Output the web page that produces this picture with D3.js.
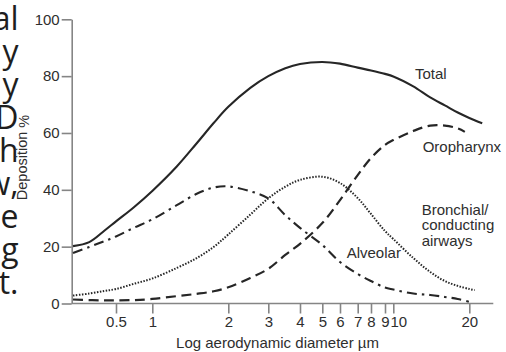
<!DOCTYPE html>
<html>
<head>
<meta charset="utf-8">
<script src="https://cdn.jsdelivr.net/npm/d3@7"></script>
<style>
  html, body { margin: 0; padding: 0; background: #fff; }
  svg { display: block; }
</style>
</head>
<body>
<div id="chart"></div>
<script>
// ---------------- DATA ----------------
// particle aerodynamic diameter (µm) at which the curves were read
const sizes = [0.22, 0.3, 0.4, 0.5, 0.7, 1, 1.25, 1.5, 1.75, 2, 2.5, 3, 3.5, 4, 5, 6, 7, 8, 9, 10, 12, 14, 16, 18, 19.2, 20, 21, 22.5];
// deposition % per region (null = curve not drawn there)
const totalDep      = [20.2, 21.6, 25.6, 28.9, 33.8, 39.6, 48.2, 56.4, 63.5, 69.2, 75.9, 80.0, 82.8, 84.3, 85.0, 84.4, 83.0, 82.0, 80.8, 79.9, 76.4, 72.5, 69.7, 67.2, null, 65.3, null, 63.4];
const oropharynxDep = [1.4, 1.2, 1.1, 1.1, 1.2, 1.6, 2.6, 3.4, 4.3, 5.7, 9.0, 12.2, 17.1, 21.0, 28.3, 36.4, 45.2, 51.2, 55.8, 57.5, 60.7, 62.6, 62.6, 61.6, 60.4, null, null, null];
const bronchialDep  = [2.8, 3.5, 4.4, 5.1, 6.9, 8.8, 12.5, 16.0, 19.9, 24.3, 31.3, 37.0, 41.1, 43.5, 44.6, 42.4, 37.1, 31.5, 25.5, 22.7, 16.0, 11.1, 7.9, 6.2, null, 5.1, 4.7, null];
const alveolarDep   = [17.8, 19.9, 21.9, 23.6, 26.6, 29.6, 34.6, 38.6, 40.8, 41.2, 39.5, 37.0, 31.1, 26.6, 20.6, 14.6, 10.4, 7.9, 5.6, 4.9, 3.5, 3.0, 2.3, 1.6, null, 0.6, null, null];

const xTickValues = [0.5, 1, 2, 3, 4, 5, 6, 7, 8, 9, 10, 20];
const yTickValues = [0, 20, 40, 60, 80, 100];
const seriesNames = ["Total", "Oropharynx", "Bronchial/conducting airways", "Alveolar"];
const xAxisTitle = "Log aerodynamic diameter µm";
const yAxisTitle = "Deposition";
// clipped fragments of the page text at the left edge
const sideText = ["al", "y", "y", "D", "h", "w,", "e", "g", "t."];

// ---------------- LAYOUT ----------------
const W = 506, H = 352;
const plotLeft = 71.7, plotRight = 493.3, plotTop = 19.3, plotBottom = 303.5;
// the printed axis is a hand-drawn log axis: tick positions along it
const xTickPx = [116, 152.3, 228.3, 268.3, 300, 322.3, 340, 357.7, 371, 385, 393.3, 469.3];

const svg = d3.select("#chart").append("svg").attr("width", W).attr("height", H);

const xLin = d3.scaleLinear().domain(xTickValues.map(Math.log10)).range(xTickPx);
const x = v => xLin(Math.log10(v));
const y = d3.scaleLinear().domain([0, 100]).range([plotBottom, plotTop]);

const axisColor = "#858585";
const textColor = "#2e2e2e";
const chartFont = "'Liberation Sans', Arial, Helvetica, sans-serif";

// side text
svg.append("g").selectAll("text").data(sideText).join("text")
  .attr("x", 18.5)
  .attr("y", (d, i) => 29.5 + i * 33)
  .attr("text-anchor", "end")
  .attr("font-family", "'Open Sans', sans-serif")
  .attr("font-size", 32)
  .attr("fill", "#1e1e1e")
  .text(d => d);

// y axis
const gy = svg.append("g").attr("transform", `translate(${plotLeft},0)`)
  .call(d3.axisLeft(y).tickValues(yTickValues).tickSize(10).tickSizeOuter(0).tickPadding(2));
gy.select(".domain").attr("stroke", axisColor).attr("stroke-width", 1.6);
gy.selectAll(".tick line").attr("stroke", axisColor).attr("stroke-width", 1.6);
gy.selectAll(".tick text").attr("fill", textColor).attr("font-size", 15).attr("font-family", chartFont);

// x axis
const gx = svg.append("g").attr("transform", `translate(0,${plotBottom})`)
  .call(d3.axisBottom(xLin).tickValues(xTickValues.map(Math.log10))
    .tickFormat((d, i) => String(xTickValues[i])).tickSize(10).tickPadding(3));
gx.select(".domain").remove();
gx.append("line").attr("x1", plotLeft).attr("x2", plotRight).attr("y1", 0).attr("y2", 0)
  .attr("stroke", axisColor).attr("stroke-width", 1.6);
gx.selectAll(".tick line").attr("stroke", axisColor).attr("stroke-width", 1.6);
gx.selectAll(".tick text").attr("fill", textColor).attr("font-size", 15).attr("font-family", chartFont)
  .attr("dx", (d, i) => xTickValues[i] === 10 ? 5 : 0);

// axis titles
svg.append("text")
  .attr("x", 277.5).attr("y", 348.3)
  .attr("text-anchor", "middle")
  .attr("font-family", chartFont).attr("font-size", 15).attr("fill", textColor)
  .text(xAxisTitle);

const yt = svg.append("text")
  .attr("transform", "translate(27,157.5) rotate(-90)")
  .attr("text-anchor", "middle")
  .attr("font-family", chartFont).attr("font-size", 14.5).attr("fill", textColor);
yt.append("tspan").text(yAxisTitle + " ");
yt.append("tspan").attr("dy", 1.8).text("%");

// curves
const seriesData = [totalDep, oropharynxDep, bronchialDep, alveolarDep];
const styles = [
  { dash: null, width: 2.1 },
  { dash: "10,5.5", width: 2.2 },
  { dash: "1.5,1.5", width: 2 },
  { dash: "10,5,2.5,5", width: 2.1 }
];
const line = d3.line().x(d => x(d[0])).y(d => y(d[1])).curve(d3.curveCatmullRom.alpha(0.5));

seriesData.forEach((vals, k) => {
  const pts = sizes.map((s, i) => [s, vals[i]]).filter(d => d[1] != null);
  svg.append("path")
    .datum(pts)
    .attr("d", line)
    .attr("fill", "none")
    .attr("stroke", "#262626")
    .attr("stroke-width", styles[k].width)
    .attr("stroke-dasharray", styles[k].dash)
    .attr("stroke-linecap", "butt");
});

// series labels
const labelPos = [
  { x: 415, y: 79 },
  { x: 422.7, y: 151.5 },
  { x: 421.7, y: 215 },
  { x: 346.7, y: 258 }
];
const wrapped = [["Total"], ["Oropharynx"], ["Bronchial/", "conducting", "airways"], ["Alveolar"]];
labelPos.forEach((sp, k) => {
  const t = svg.append("text")
    .attr("font-family", chartFont).attr("font-size", 15).attr("fill", textColor);
  wrapped[k].forEach((ln, j) => {
    t.append("tspan").attr("x", sp.x).attr("y", sp.y + j * 15.3).text(ln);
  });
});
</script>
</body>
</html>
